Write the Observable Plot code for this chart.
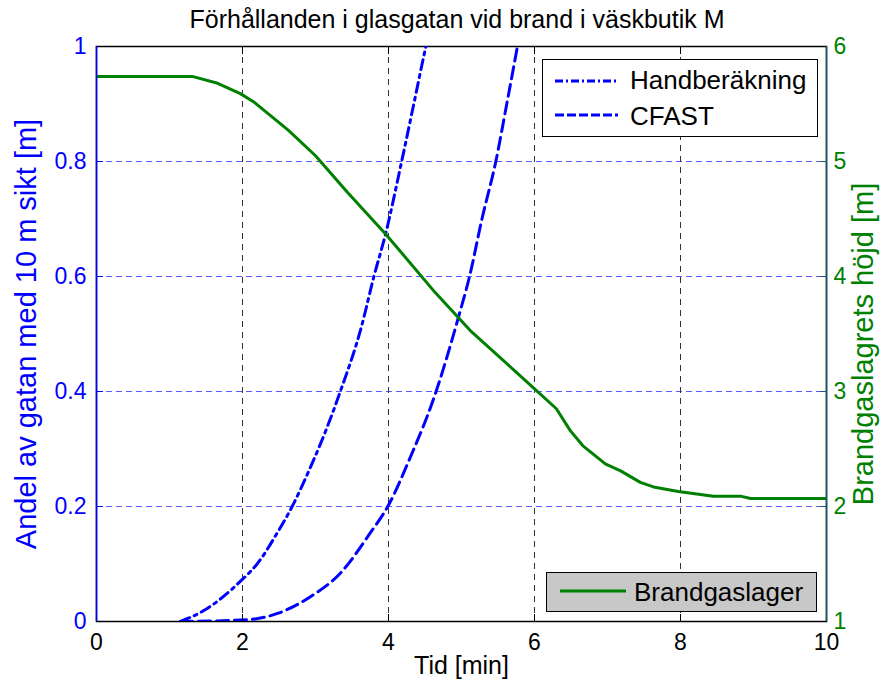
<!DOCTYPE html>
<html><head><meta charset="utf-8">
<script src="https://cdn.jsdelivr.net/npm/d3@7"></script>
<script src="https://cdn.jsdelivr.net/npm/@observablehq/plot@0.6"></script>
<style>
body{margin:0;background:#fff;font-family:"Liberation Sans",Arial,Helvetica,sans-serif;}
#wrap{position:relative;width:883px;height:694px;overflow:hidden;}
#title{position:absolute;left:0;width:914px;top:7px;text-align:center;font-size:25px;line-height:25px;color:#000;white-space:nowrap;}
.leg{position:absolute;border:1px solid #000;box-sizing:border-box;font-size:26px;}
.leg svg{position:absolute;}
.leg span{position:absolute;line-height:26px;white-space:nowrap;}
</style></head><body>
<div id="wrap">
<div id="title">Förhållanden i glasgatan vid brand i väskbutik M</div>
</div>
<script>
// Handberäkning (andel, vänster axel)
const handT = [1.15,1.47,1.98,2.20,2.48,2.68,2.93,3.16,3.34,3.63,3.80,3.96,4.18,4.34,4.50,4.53];
const handV = [0,0.019,0.071,0.10,0.155,0.2,0.268,0.338,0.4,0.513,0.6,0.674,0.8,0.896,0.993,1.01];
// CFAST (andel, vänster axel)
const cfastT = [1.15,2.06,2.48,2.93,3.34,3.75,3.99,4.3,4.62,4.96,5.11,5.28,5.47,5.62,5.76,5.78];
const cfastV = [0,0.003,0.014,0.043,0.084,0.154,0.2,0.286,0.388,0.53,0.6,0.7,0.8,0.9,0.996,1.01];
// Brandgaslager höjd [m] (höger axel)
const gasT = [0,1.31,1.66,1.97,2.15,2.63,3.0,3.44,3.96,4.64,5.12,5.99,6.30,6.49,6.66,6.97,7.18,7.45,7.63,7.97,8.45,8.82,8.96,10];
const gasH = [5.74,5.74,5.68,5.59,5.52,5.27,5.05,4.73,4.37,3.86,3.53,3.03,2.85,2.66,2.53,2.37,2.31,2.21,2.17,2.13,2.09,2.09,2.07,2.07];
const xTicks = [0,2,4,6,8,10];
const yTicks = [0,0.2,0.4,0.6,0.8,1];
const rightTicks = [1,2,3,4,5,6];

const hand = handT.map((t,i)=>({t, v:handV[i]}));
const cfast = cfastT.map((t,i)=>({t, v:cfastV[i]}));
// map right-axis heights (1..6) onto the shared y scale (0..1)
const toLeft = h => (h - 1) / 5;
const gas = gasT.map((t,i)=>({t, v:toLeft(gasH[i])}));

const BLUE = "#0000ff", GREEN = "#008000";
const fmt = d => String(+d.toFixed(1));

const chart = Plot.plot({
  width: 883, height: 694,
  marginTop: 46, marginBottom: 73, marginLeft: 96, marginRight: 57,
  style: {fontFamily: '"Liberation Sans",Arial,sans-serif', fontSize: "23px", background: "white", overflow: "visible"},
  x: {domain: [0,10]},
  y: {domain: [0,1]},
  marks: [
    Plot.ruleY(yTicks.slice(1,-1), {stroke: "#5a5aff", strokeDasharray: "6,4", strokeWidth: 1}),
    Plot.ruleX(xTicks.slice(1,-1), {stroke: "#333", strokeDasharray: "6,5", strokeWidth: 1}),
    Plot.frame({stroke: "#000", strokeWidth: 1.5}),
    Plot.line(hand, {x: "t", y: "v", stroke: BLUE, strokeWidth: 3, strokeDasharray: "10,5,3,5", curve: "monotone-x", clip: true}),
    Plot.line(cfast, {x: "t", y: "v", stroke: BLUE, strokeWidth: 3, strokeDasharray: "12,6", curve: "monotone-x", clip: true}),
    Plot.line(gas, {x: "t", y: "v", stroke: GREEN, strokeWidth: 3, clip: true}),
    Plot.ruleX([0], {stroke: BLUE, strokeWidth: 1.5}),
    Plot.ruleX([10], {stroke: "#15586a", strokeWidth: 1.5}),
    // x axis labels + inward ticks (bottom and top)
    Plot.axisX(xTicks, {anchor: "bottom", tickSize: 0, tickPadding: 12, fontSize: 23, label: null, fill: "#000", tickFormat: d => String(d)}),
    Plot.axisX(xTicks.slice(1,-1), {anchor: "bottom", tickSize: -7, tickFormat: () => "", label: null, stroke: "#000"}),
    Plot.axisX(xTicks.slice(1,-1), {anchor: "top", tickSize: -7, tickFormat: () => "", label: null, stroke: "#000"}),
    // left axis (blue)
    Plot.axisY(yTicks, {anchor: "left", tickSize: 0, tickPadding: 10, fontSize: 23, label: null, color: BLUE, tickFormat: fmt}),
    Plot.axisY(yTicks.slice(1,-1), {anchor: "left", tickSize: -7, tickFormat: () => "", label: null, color: BLUE}),
    // right axis (green)
    Plot.axisY(rightTicks.map(toLeft), {anchor: "right", tickSize: 0, tickPadding: 7, fontSize: 23, label: null, color: GREEN, tickFormat: d => String(Math.round(d*5+1))}),
    Plot.axisY(rightTicks.slice(1,-1).map(toLeft), {anchor: "right", tickSize: -7, tickFormat: () => "", label: null, color: "#15586a"}),
    // axis titles
    Plot.text(["Tid [min]"], {frameAnchor: "bottom", dy: 52, fontSize: 25, fill: "#000", text: d => d}),
    Plot.text(["Andel av gatan med 10 m sikt [m]"], {frameAnchor: "left", dx: -70, rotate: -90, textAnchor: "middle", lineAnchor: "middle", fontSize: 29, fill: BLUE, text: d => d}),
    Plot.text(["Brandgaslagrets höjd [m]"], {frameAnchor: "right", dx: 37, dy: 10, rotate: -90, textAnchor: "middle", lineAnchor: "middle", fontSize: 29, fill: GREEN, text: d => d})
  ]
});
const wrap = document.getElementById("wrap");
chart.style.position = "absolute"; chart.style.left = "0"; chart.style.top = "0";
wrap.insertBefore(chart, wrap.firstChild);

function legend(box, fill, items) {
  const d = document.createElement("div");
  d.className = "leg";
  Object.assign(d.style, {left: box[0]+"px", top: box[1]+"px", width: box[2]+"px", height: box[3]+"px", background: fill});
  items.forEach(it => {
    const s = document.createElementNS("http://www.w3.org/2000/svg","svg");
    s.setAttribute("width", 70); s.setAttribute("height", 10);
    s.style.left = it.lx + "px"; s.style.top = (it.ly - 5) + "px";
    const l = document.createElementNS("http://www.w3.org/2000/svg","line");
    l.setAttribute("x1", 0); l.setAttribute("x2", it.len); l.setAttribute("y1", 5); l.setAttribute("y2", 5);
    l.setAttribute("stroke", it.color); l.setAttribute("stroke-width", 3);
    if (it.dash) l.setAttribute("stroke-dasharray", it.dash);
    s.appendChild(l); d.appendChild(s);
    const t = document.createElement("span");
    t.textContent = it.label; t.style.left = it.tx + "px"; t.style.top = it.ty + "px";
    d.appendChild(t);
  });
  wrap.appendChild(d);
}
legend([542,59,276,78], "#fff", [
  {label: "Handberäkning", color: BLUE, dash: "8,3,2,3", lx: 12, len: 63, ly: 21, tx: 87, ty: 7},
  {label: "CFAST", color: BLUE, dash: "9,3", lx: 12, len: 63, ly: 55, tx: 87, ty: 43}
]);
legend([546,572,271,40], "#c8c8c8", [
  {label: "Brandgaslager", color: GREEN, lx: 13, len: 66, ly: 18, tx: 87, ty: 6}
]);
</script>
</body></html>
